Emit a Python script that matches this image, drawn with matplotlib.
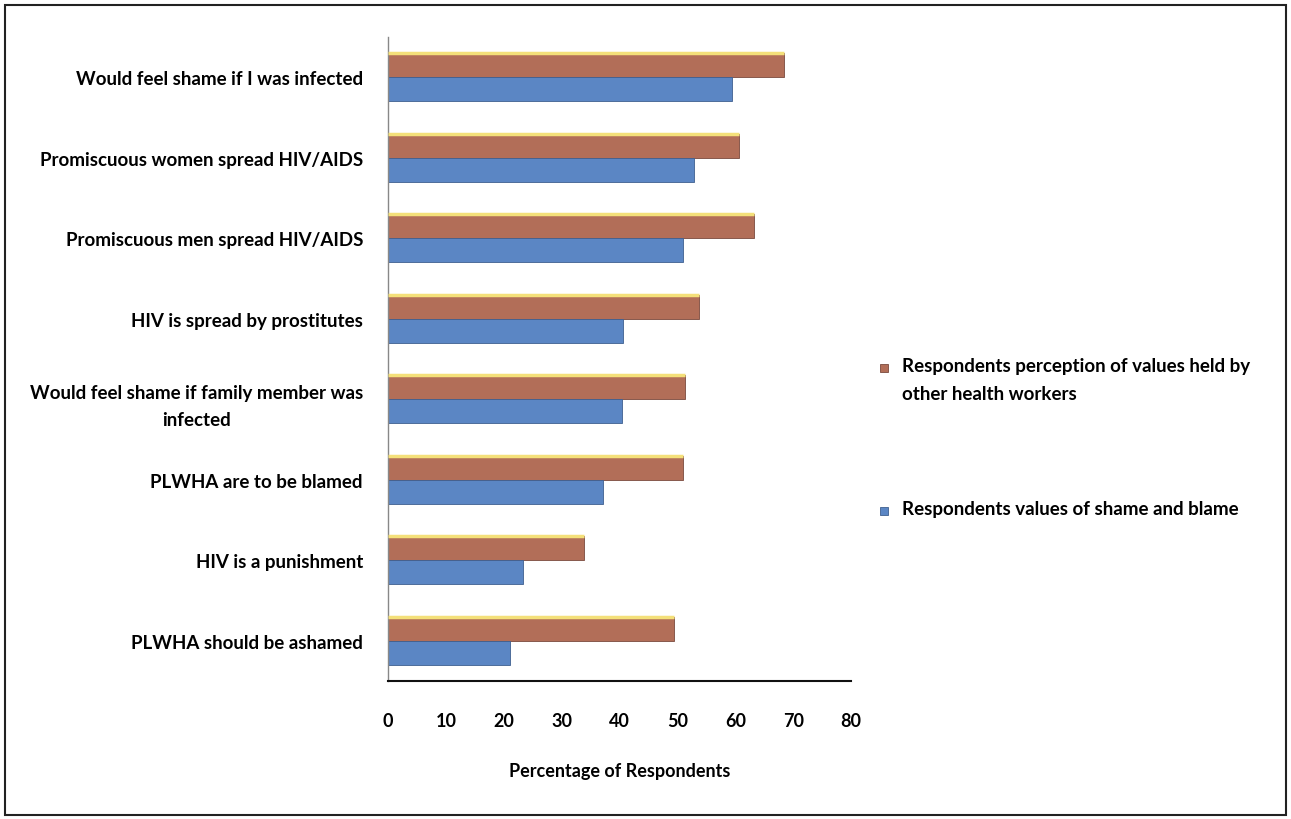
import matplotlib
matplotlib.use("Agg")
import matplotlib.pyplot as plt
from matplotlib.patches import Rectangle
import numpy as np

categories = [
    "Would feel shame if I was infected",
    "Promiscuous women spread HIV/AIDS",
    "Promiscuous men spread HIV/AIDS",
    "HIV is spread by prostitutes",
    "Would feel shame if family member was\ninfected",
    "PLWHA are to be blamed",
    "HIV is a punishment",
    "PLWHA should be ashamed",
]
perception_others = [68.4, 60.6, 63.2, 53.8, 51.4, 50.9, 33.9, 49.5]
own_values = [59.4, 52.8, 51.0, 40.6, 40.4, 37.2, 23.3, 21.0]
series_names = [
    "Respondents perception of values held by\nother health workers",
    "Respondents values of shame and blame",
]
xticks = [0, 10, 20, 30, 40, 50, 60, 70, 80]

RED = "#B26E58"
BLUE = "#5B86C4"
YELLOW = "#F4E07A"
RED_EDGE = "#7a4a3e"
BLUE_EDGE = "#3f5f8f"

plt.rcParams['font.family'] = ['Lato', 'DejaVu Sans']

W, H = 1291, 820
fig = plt.figure(figsize=(W / 100, H / 100), dpi=100)
ax = fig.add_axes([388 / W, 1 - 682 / H, (851 - 388) / W, (682 - 38) / H])

y = np.arange(len(categories))
bh = 0.3
ax.barh(y - bh / 2, perception_others, height=bh, color=RED, edgecolor=RED_EDGE, linewidth=0.6, zorder=2)
ax.barh(y + bh / 2, own_values, height=bh, color=BLUE, edgecolor=BLUE_EDGE, linewidth=0.6, zorder=2)
# yellow top edge on red bars
for yi, v in zip(y, perception_others):
    ax.plot([0, v], [yi - bh, yi - bh], color=YELLOW, linewidth=2.5, zorder=3, solid_capstyle="butt")

ax.set_ylim(len(categories) - 0.5, -0.5)
ax.set_xlim(0, 80)
ax.set_xticks(xticks)
ax.set_xticklabels([str(t) for t in xticks], fontsize=13, fontweight="bold")
ax.set_yticks(y)
ax.set_yticklabels(categories, fontsize=13.5, fontweight="bold", multialignment="center", linespacing=1.75)
ax.tick_params(axis="both", length=0)
ax.tick_params(axis="x", pad=22)
ax.tick_params(axis="y", pad=18)
ax.set_xlabel("Percentage of Respondents", fontsize=13, fontweight="bold", labelpad=24)

for s in ["top", "right"]:
    ax.spines[s].set_visible(False)
ax.spines["left"].set_color("#888888")
ax.spines["left"].set_linewidth(1.0)
ax.spines["bottom"].set_color("#111111")
ax.spines["bottom"].set_linewidth(1.5)

# legend (manual layout, handle aligned with first text line)
leg_items = [(series_names[0], RED, RED_EDGE, 369), (series_names[1], BLUE, BLUE_EDGE, 512)]
for label, fc, ec, ypix in leg_items:
    fig.add_artist(Rectangle((880 / W, 1 - (ypix + 4) / H), 8 / W, 8 / H,
                             transform=fig.transFigure, facecolor=fc, edgecolor=ec, linewidth=0.6))
    fig.text(902 / W, 1 - (ypix - 11) / H, label, fontsize=13.5, fontweight="bold",
             va="top", ha="left", linespacing=1.8)

fig.add_artist(Rectangle((5 / W, 1 - 816 / H), (1286 - 5) / W, (816 - 6) / H,
                         transform=fig.transFigure, fill=False, edgecolor="#222222", linewidth=1.5))

fig.savefig("out.png", dpi=100, facecolor="white")
